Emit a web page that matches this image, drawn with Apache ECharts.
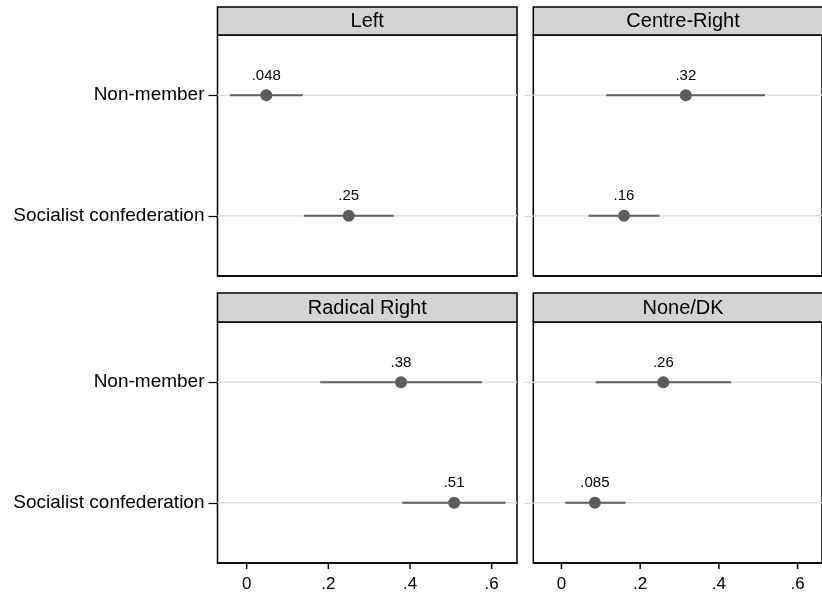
<!DOCTYPE html>
<html><head><meta charset="utf-8">
<script src="https://cdn.jsdelivr.net/npm/echarts@6/dist/echarts.min.js"></script>
<style>html,body{margin:0;padding:0;background:#fff}#c{width:822px;height:598px}</style>
</head><body><div id="c"></div>
<script>
const panels = ['Left', 'Centre-Right', 'Radical Right', 'None/DK'];
const categories = ['Non-member', 'Socialist confederation'];
const xTicks = [0, 0.2, 0.4, 0.6];
const xTickLabels = ['0', '.2', '.4', '.6'];
const xMin = -0.0715, xMax = 0.662;

const estLeft = [0.048, 0.25];
const loLeft = [-0.041, 0.14];
const hiLeft = [0.137, 0.36];

const estCentreRight = [0.316, 0.159];
const loCentreRight = [0.114, 0.069];
const hiCentreRight = [0.517, 0.249];

const estRadicalRight = [0.378, 0.508];
const loRadicalRight = [0.18, 0.381];
const hiRadicalRight = [0.576, 0.634];

const estNoneDK = [0.259, 0.085];
const loNoneDK = [0.087, 0.0098];
const hiNoneDK = [0.431, 0.163];

const panelData = [
  [estLeft, loLeft, hiLeft],
  [estCentreRight, loCentreRight, hiCentreRight],
  [estRadicalRight, loRadicalRight, hiRadicalRight],
  [estNoneDK, loNoneDK, hiNoneDK]
];

const FONT = '"Liberation Sans", Arial, Helvetica, sans-serif';
const W = 299.5;
const lefts = [217.5, 533.3, 217.5, 533.3];
const tops = [35, 35, 322, 322];
const heights = [241, 241, 241, 241];
const headTop = [7, 7, 293, 293];

function fmt(v) {
  return Number(v).toPrecision(2).replace(/^0\./, '.').replace(/^-0\./, '-.');
}

const grid = [], xAxis = [], yAxis = [], series = [], graphic = [];
for (let p = 0; p < 4; p++) {
  grid.push({left: lefts[p], top: tops[p], width: W, height: heights[p], show: true,
    borderColor: '#000', borderWidth: 1.5, backgroundColor: '#fff'});
  const bottom = p >= 2;
  xAxis.push({type: 'value', gridIndex: p, min: xMin, max: xMax, position: 'bottom',
    axisLine: {show: true, onZero: false, lineStyle: {color: '#000', width: 1.5}}, splitLine: {show: false},
    axisTick: {show: false},
    axisLabel: {show: bottom, customValues: xTicks, margin: 13, color: '#000', fontSize: 17, fontFamily: FONT,
      formatter: v => { const i = xTicks.findIndex(t => Math.abs(t - v) < 1e-9); return i >= 0 ? xTickLabels[i] : ''; }}
  });
  const leftCol = (p % 2 === 0);
  yAxis.push({type: 'category', gridIndex: p, data: categories, inverse: true, boundaryGap: true, position: 'left',
    axisLine: {show: false, onZero: false}, splitLine: {show: false},
    axisTick: {show: true, alignWithLabel: true, length: 9, lineStyle: {color: leftCol ? '#000' : '#dcdcdc', width: 1.2}},
    axisLabel: {show: leftCol, margin: 13, color: '#000', fontSize: 19, fontFamily: FONT}
  });
  const [est, lo, hi] = panelData[p];
  categories.forEach((c, i) => {
    series.push({type: 'line', xAxisIndex: p, yAxisIndex: p, z: 1, silent: true,
      symbol: 'none', lineStyle: {color: '#e0e0e0', width: 1.5},
      data: [[xMin, c], [xMax, c]]});
  });
  categories.forEach((c, i) => {
    series.push({type: 'line', xAxisIndex: p, yAxisIndex: p, z: 3, silent: true,
      symbol: 'none', lineStyle: {color: '#5e5e5e', width: 2, opacity: 1},
      data: [[lo[i], c], [hi[i], c]]});
  });
  series.push({type: 'scatter', xAxisIndex: p, yAxisIndex: p, z: 4, silent: true,
    symbol: 'circle', symbolSize: 12, itemStyle: {color: '#5c5c5c', opacity: 1},
    data: categories.map((c, i) => [est[i], c]),
    label: {show: true, position: 'top', distance: 6, color: '#000', fontSize: 15, fontFamily: FONT,
      formatter: d => fmt(d.value[0])}
  });
  if (bottom) {
    // x-axis tick marks at the tick values, placed through the axis scale
    series.push({type: 'custom', xAxisIndex: p, yAxisIndex: p, z: 5, silent: true, clip: false,
      data: xTicks.map(t => [t, 0]), encode: {x: 0, y: 1},
      renderItem: (params, api) => {
        const cs = params.coordSys;
        const x = api.coord([api.value(0), api.value(1)])[0];
        const yb = cs.y + cs.height;
        return {type: 'line', shape: {x1: x, y1: yb, x2: x, y2: yb + 6},
          style: {stroke: '#000', lineWidth: 1.5}};
      }
    });
  }
  graphic.push({type: 'rect', z: 10,
    shape: {x: lefts[p], y: headTop[p], width: W, height: tops[p] - headTop[p]},
    style: {fill: '#d4d4d4', stroke: '#000', lineWidth: 1.5}});
  graphic.push({type: 'text', z: 11, x: lefts[p] + W / 2, y: (headTop[p] + tops[p]) / 2 + 0.5,
    style: {text: panels[p], fill: '#000', font: '20px ' + FONT, align: 'center', verticalAlign: 'middle'}});
}

const chart = echarts.init(document.getElementById('c'), null, {renderer: 'canvas'});
chart.setOption({animation: false, backgroundColor: '#fff', grid, xAxis, yAxis, series, graphic});
</script>
</body></html>
